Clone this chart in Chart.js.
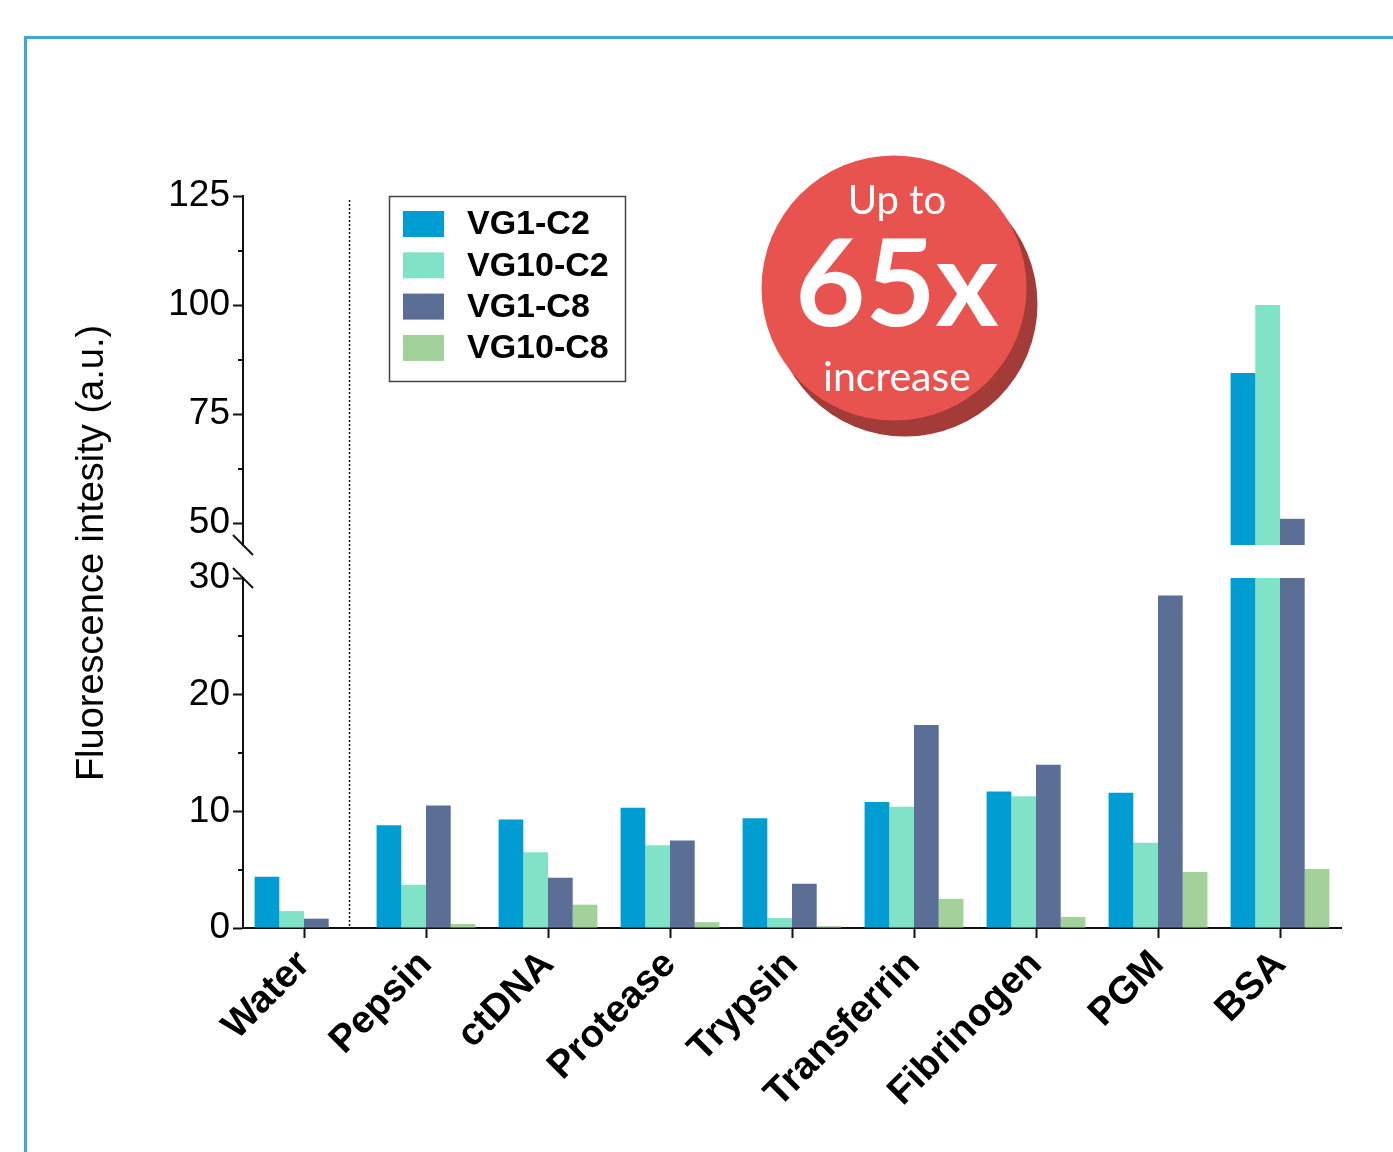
<!DOCTYPE html>
<html>
<head>
<meta charset="utf-8">
<script src="https://cdn.jsdelivr.net/npm/chart.js@4.4.1/dist/chart.umd.min.js"></script>
<style>
  html, body { margin: 0; padding: 0; background: #fff; }
  canvas { display: block; }
</style>
</head>
<body>
<canvas id="chart" width="1393" height="1152"></canvas>
<script>
// values (a.u.)
const categories = ['Water', 'Pepsin', 'ctDNA', 'Protease', 'Trypsin', 'Transferrin', 'Fibrinogen', 'PGM', 'BSA'];
const seriesNames = ['VG1-C2', 'VG10-C2', 'VG1-C8', 'VG10-C8'];
const vg1c2  = [4.4, 8.8, 9.3, 10.3, 9.4, 10.8, 11.7, 11.6, 84.4];
const vg10c2 = [1.45, 3.7, 6.5, 7.1, 0.85, 10.4, 11.3, 7.3, 100];
const vg1c8  = [0.8, 10.5, 4.3, 7.5, 3.8, 17.4, 14.0, 28.5, 51.0];
const vg10c8 = [0, 0.35, 2.0, 0.5, 0.15, 2.5, 0.95, 4.8, 5.05];
const seriesColors = ['#009dd2', '#80e3c8', '#5b6e96', '#a3d19a'];

// broken axis: lower and upper segments
const lowerRange = [0, 30];
const upperRange = [45, 125];
const lowerTicks = [0, 10, 20, 30];
const upperTicks = [50, 75, 100, 125];
const lowerMinor = [5, 15, 25];
const upperMinor = [62.5, 87.5, 112.5];
const dividerAt = 0.37; // dotted line after Water

const axisTitle = 'Fluorescence intesity (a.u.)';
const badgeLines = ['Up to', '65x', 'increase'];

const allSeries = [vg1c2, vg10c2, vg1c8, vg10c8];
const axisColor = '#111';
const sans = "'Liberation Sans', Arial, sans-serif";

const lowerSets = allSeries.map((vals, i) => ({
    label: seriesNames[i],
    data: vals.map(v => Math.min(v, lowerRange[1])),
    backgroundColor: seriesColors[i],
    yAxisID: 'yLow',
    stack: 's' + i
}));
const upperSets = allSeries.map((vals, i) => ({
    label: seriesNames[i],
    data: vals.map(v => v > upperRange[0] ? v : null),
    base: upperRange[0],
    backgroundColor: seriesColors[i],
    yAxisID: 'yTop',
    stack: 's' + i
}));

const fixWidth = s => { s.width = 243; };

const extras = {
    id: 'extras',
    beforeDraw(chart) {
        const ctx = chart.ctx;
        ctx.save();
        ctx.fillStyle = '#fff';
        ctx.fillRect(0, 0, chart.width, chart.height);
        ctx.strokeStyle = '#42a6d3';
        ctx.lineWidth = 3;
        ctx.strokeRect(25.5, 37.5, chart.width + 20, chart.height + 20);
        ctx.restore();
    },
    afterDraw(chart) {
        const { ctx, chartArea, scales } = chart;
        const { x, yLow, yTop } = scales;
        const left = chartArea.left;
        ctx.save();

        // minor ticks
        ctx.strokeStyle = axisColor;
        ctx.lineWidth = 2;
        [[yLow, lowerMinor], [yTop, upperMinor]].forEach(([s, vals]) => {
            vals.forEach(v => {
                const py = Math.round(s.getPixelForValue(v));
                ctx.beginPath();
                ctx.moveTo(left - 5, py);
                ctx.lineTo(left, py);
                ctx.stroke();
            });
        });

        // break marks
        [yTop.getPixelForValue(upperRange[0]), yLow.getPixelForValue(lowerRange[1])].forEach(py => {
            ctx.beginPath();
            ctx.moveTo(left - 10, py - 10);
            ctx.lineTo(left + 10, py + 10);
            ctx.stroke();
        });

        // dotted divider
        const dx = Math.round(x.getPixelForValue(dividerAt)) + 0.5;
        ctx.setLineDash([2, 2]);
        ctx.lineWidth = 1.5;
        ctx.beginPath();
        ctx.moveTo(dx, chartArea.top + 4);
        ctx.lineTo(dx, chartArea.bottom);
        ctx.stroke();
        ctx.setLineDash([]);

        // y axis title
        ctx.save();
        ctx.translate(93, 553);
        ctx.rotate(-Math.PI / 2);
        ctx.fillStyle = '#000';
        ctx.font = '38px ' + sans;
        ctx.textAlign = 'center';
        ctx.textBaseline = 'middle';
        ctx.fillText(axisTitle, 0, 0);
        ctx.restore();

        // legend
        ctx.strokeStyle = '#444';
        ctx.lineWidth = 1.5;
        ctx.strokeRect(389.5, 196.5, 236, 185);
        ctx.font = 'bold 34px ' + sans;
        ctx.textAlign = 'left';
        ctx.textBaseline = 'middle';
        chart.data.datasets.slice(0, seriesNames.length).forEach((ds, i) => {
            const top = 211 + i * 41.3;
            ctx.fillStyle = ds.backgroundColor;
            ctx.fillRect(403, top, 41, 26);
            ctx.fillStyle = '#000';
            ctx.fillText(ds.label, 467, top + 14);
        });

        // badge
        ctx.fillStyle = '#a33b38';
        ctx.beginPath();
        ctx.arc(905, 304, 132.5, 0, Math.PI * 2);
        ctx.fill();
        ctx.fillStyle = '#e8534f';
        ctx.beginPath();
        ctx.arc(894, 288, 132.5, 0, Math.PI * 2);
        ctx.fill();
        ctx.fillStyle = '#fff';
        ctx.textAlign = 'center';
        ctx.textBaseline = 'alphabetic';
        ctx.font = '40px Lato, sans-serif';
        ctx.fillText(badgeLines[0], 897, 214);
        ctx.font = 'bold 121px Lato, sans-serif';
        ctx.fillText(badgeLines[1], 897, 326);
        ctx.font = '41px Lato, sans-serif';
        ctx.fillText(badgeLines[2], 897, 391);

        ctx.restore();
    }
};

new Chart(document.getElementById('chart'), {
    type: 'bar',
    data: {
        labels: categories,
        datasets: lowerSets.concat(upperSets)
    },
    options: {
        responsive: false,
        animation: false,
        categoryPercentage: 0.81,
        barPercentage: 1.0,
        layout: { padding: { top: 196, right: 52, bottom: 0, left: 0 } },
        plugins: {
            legend: { display: false },
            tooltip: { enabled: false }
        },
        scales: {
            x: {
                grid: { offset: false, drawOnChartArea: false, tickLength: 10, tickWidth: 2, tickColor: axisColor },
                border: { color: axisColor, width: 2 },
                ticks: {
                    autoSkip: false,
                    minRotation: 45,
                    maxRotation: 45,
                    padding: 4,
                    color: '#000',
                    font: { family: sans, size: 38.5, weight: 'bold' }
                },
                afterFit: s => { s.height = 224; }
            },
            yLow: {
                type: 'linear',
                position: 'left',
                stack: 'y',
                stackWeight: 350,
                stacked: false,
                min: lowerRange[0],
                max: lowerRange[1],
                afterBuildTicks: s => { s.ticks = lowerTicks.map(v => ({ value: v })); },
                afterFit: fixWidth,
                grid: { drawOnChartArea: false, tickLength: 10, tickWidth: 2, tickColor: axisColor },
                border: { color: axisColor, width: 2 },
                ticks: { color: '#000', padding: 3, font: { family: sans, size: 37 } }
            },
            yGap: {
                type: 'linear',
                position: 'left',
                stack: 'y',
                stackWeight: 33,
                min: lowerRange[1],
                max: upperRange[0],
                afterFit: fixWidth,
                grid: { display: false },
                border: { display: false },
                ticks: { display: false }
            },
            yTop: {
                type: 'linear',
                position: 'left',
                stack: 'y',
                stackWeight: 349,
                stacked: false,
                min: upperRange[0],
                max: upperRange[1],
                afterBuildTicks: s => { s.ticks = upperTicks.map(v => ({ value: v })); },
                afterFit: fixWidth,
                grid: { drawOnChartArea: false, tickLength: 10, tickWidth: 2, tickColor: axisColor },
                border: { color: axisColor, width: 2 },
                ticks: { color: '#000', padding: 3, font: { family: sans, size: 37 } }
            }
        }
    },
    plugins: [extras]
});
</script>
</body>
</html>
